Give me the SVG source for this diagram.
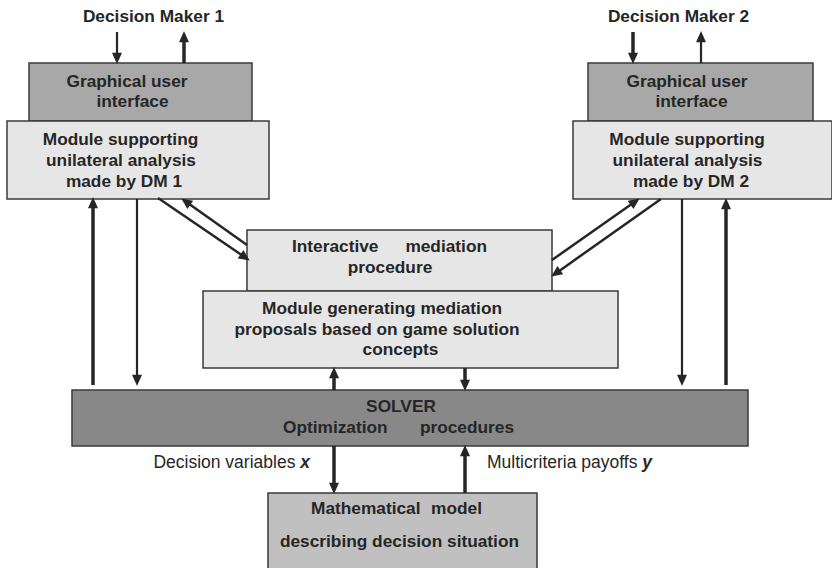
<svg xmlns="http://www.w3.org/2000/svg" width="832" height="568" viewBox="0 0 832 568">
<style>
text{font-family:"Liberation Sans",Arial,sans-serif;fill:#262626}
.b{font-weight:bold;font-size:17.3px}
.r{font-size:17.5px}
.m{text-anchor:middle}
.e{text-anchor:end}
.box{stroke:#3a3a3a;stroke-width:1.5}
.gui{fill:#a8a8a8}
.lt{fill:#e6e6e6}
.solver{fill:#888888}
.math{fill:#c0c0c0}
.ln{stroke:#262626;fill:none}
.tk{stroke-width:3.5}
.tn{stroke-width:2.2}
.dg{stroke-width:2.5}
</style>
<defs>
<marker id="ah" markerUnits="userSpaceOnUse" markerWidth="12" markerHeight="10" refX="2" refY="4.5" orient="auto" viewBox="0 0 10 9">
<path d="M0,0 L10,4.5 L0,9 z" fill="#262626"/>
</marker>
</defs>
<rect width="832" height="568" fill="#ffffff"/>

<g id="dm1-label"><text class="b m" x="153.5" y="22">Decision Maker 1</text></g>
<g id="dm2-label"><text class="b m" x="678.5" y="22">Decision Maker 2</text></g>

<g id="gui1">
<rect class="box gui" x="29" y="63" width="223" height="58"/>
<text class="b m" x="127" y="87">Graphical user</text>
<text class="b m" x="132.5" y="107">interface</text>
</g>
<g id="module1">
<rect class="box lt" x="7" y="121" width="262" height="78"/>
<text class="b m" x="120.5" y="145">Module supporting</text>
<text class="b m" x="121" y="166">unilateral analysis</text>
<text class="b m" x="124" y="187">made by DM 1</text>
</g>
<g id="gui2">
<rect class="box gui" x="588" y="63" width="225" height="58"/>
<text class="b m" x="687" y="87">Graphical user</text>
<text class="b m" x="691.5" y="107">interface</text>
</g>
<g id="module2">
<rect class="box lt" x="573" y="121" width="259" height="78"/>
<text class="b m" x="687" y="145">Module supporting</text>
<text class="b m" x="687.5" y="166">unilateral analysis</text>
<text class="b m" x="691" y="187">made by DM 2</text>
</g>
<g id="mediation">
<rect class="box lt" x="247" y="230" width="305" height="61"/>
<text class="b" x="292" y="252">Interactive</text>
<text class="b e" x="487" y="252">mediation</text>
<text class="b m" x="390" y="273">procedure</text>
</g>
<g id="generator">
<rect class="box lt" x="203" y="291" width="415" height="77"/>
<text class="b m" x="382" y="314">Module generating mediation</text>
<text class="b m" x="377" y="335">proposals based on game solution</text>
<text class="b m" x="400.5" y="355">concepts</text>
</g>
<g id="solver">
<rect class="box solver" x="72" y="390" width="676" height="56"/>
<text class="b m" x="401" y="412">SOLVER</text>
<text class="b" x="283" y="433">Optimization</text>
<text class="b e" x="514" y="433">procedures</text>
</g>
<g id="model">
<rect class="box math" x="268" y="493" width="269" height="80"/>
<text class="b" x="311" y="514">Mathematical</text>
<text class="b e" x="482" y="514">model</text>
<text class="b m" x="399.5" y="547">describing decision situation</text>
</g>

<g id="connectors">
<line class="ln tn" x1="117" y1="32" x2="117" y2="55" marker-end="url(#ah)"/>
<line class="ln tk" x1="184" y1="63" x2="184" y2="40" marker-end="url(#ah)"/>
<line class="ln tk" x1="633" y1="32" x2="633" y2="55" marker-end="url(#ah)"/>
<line class="ln tn" x1="701" y1="63" x2="701" y2="40" marker-end="url(#ah)"/>

<line class="ln tk" x1="93" y1="385" x2="93" y2="206" marker-end="url(#ah)"/>
<line class="ln tn" x1="137" y1="199" x2="137" y2="377" marker-end="url(#ah)"/>
<line class="ln tn" x1="682" y1="199" x2="682" y2="377" marker-end="url(#ah)"/>
<line class="ln tk" x1="726" y1="385" x2="726" y2="207" marker-end="url(#ah)"/>

<line class="ln dg" x1="158" y1="198" x2="242.4" y2="255.5" marker-end="url(#ah)"/>
<line class="ln dg" x1="247" y1="245" x2="188.5" y2="203.6" marker-end="url(#ah)"/>
<line class="ln dg" x1="552" y1="260" x2="632.4" y2="203.6" marker-end="url(#ah)"/>
<line class="ln dg" x1="661" y1="199" x2="558.5" y2="271.4" marker-end="url(#ah)"/>

<line class="ln tk" x1="334" y1="390" x2="334" y2="376" marker-end="url(#ah)"/>
<line class="ln tk" x1="465" y1="368" x2="465" y2="382" marker-end="url(#ah)"/>
<line class="ln tk" x1="334" y1="446" x2="334" y2="485" marker-end="url(#ah)"/>
<line class="ln tk" x1="465" y1="493" x2="465" y2="454" marker-end="url(#ah)"/>
</g>

<g id="labels">
<text class="r e" x="310" y="468">Decision variables <tspan font-weight="bold" font-style="italic">x</tspan></text>
<text class="r" x="487" y="468">Multicriteria payoffs <tspan font-weight="bold" font-style="italic">y</tspan></text>
</g>
</svg>
